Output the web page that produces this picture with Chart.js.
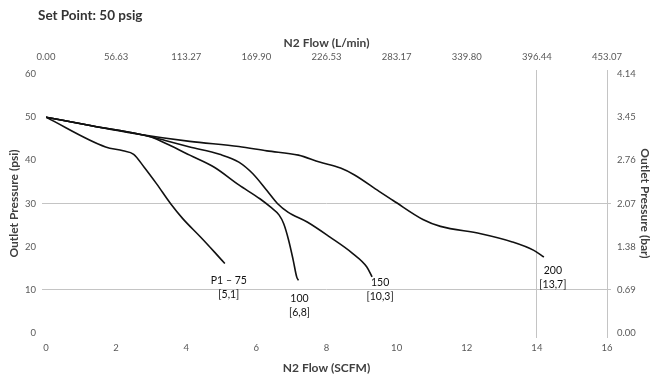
<!DOCTYPE html>
<html>
<head>
<meta charset="utf-8">
<script src="https://cdn.jsdelivr.net/npm/chart.js@4.4.1/dist/chart.umd.min.js"></script>
<style>
html,body{margin:0;padding:0;background:#fff;}
#wrap{width:654px;height:380px;position:relative;}
</style>
</head>
<body>
<div id="wrap"><canvas id="c" width="654" height="380"></canvas></div>
<script>
// ---- data ----
const seriesNames = ["P1 – 75", "100", "150", "200"];
const seriesTags = ["[5,1]", "[6,8]", "[10,3]", "[13,7]"];
const flowP75  = [0, 1.7, 2.2, 2.5, 2.8, 3.15, 3.55, 3.9, 4.4, 4.8, 5.1];
const presP75  = [50, 43.1, 42.2, 41.4, 38.4, 34.6, 30.0, 26.5, 22.3, 18.8, 16.1];
const flow100  = [0, 1.3, 2.7, 3.0, 3.5, 4.1, 4.8, 5.5, 6.1, 6.4, 6.65, 6.78, 6.92, 7.05, 7.15, 7.2];
const pres100  = [50, 48.0, 46.0, 45.4, 43.6, 41.2, 38.4, 34.3, 31.1, 29.2, 27.3, 25.3, 21.5, 16.9, 13.0, 12.2];
const flow150  = [0, 1.3, 2.7, 3.4, 4.1, 4.95, 5.5, 5.9, 6.3, 6.6, 6.9, 7.45, 8.1, 8.75, 9.15, 9.3];
const pres150  = [50, 48.0, 46.0, 44.6, 43.1, 41.4, 39.6, 36.9, 33.0, 30.0, 28.0, 25.7, 22.2, 18.4, 15.3, 13.0];
const flow200  = [0, 1.3, 2.7, 4.1, 5.5, 6.3, 7.2, 7.8, 8.4, 8.8, 9.5, 9.9, 10.75, 11.25, 12.4, 13.3, 13.9, 14.2];
const pres200  = [50, 48.0, 46.0, 44.4, 43.2, 42.2, 41.2, 39.6, 38.2, 36.6, 32.8, 30.7, 26.3, 24.7, 23.0, 21.1, 19.2, 17.6];
const scfmTicks = [0, 2, 4, 6, 8, 10, 12, 14, 16];
const psiTicks = [0, 10, 20, 30, 40, 50, 60];
const SCFM_TO_LPM = 28.3168;
const PSI_TO_BAR = 0.0689476;

const FONT = "Lato, 'Liberation Sans', sans-serif";
const toPts = (xs, ys) => xs.map((x, i) => ({x: x, y: ys[i]}));
const allFlows = [flowP75, flow100, flow150, flow200];
const allPres = [presP75, pres100, pres150, pres200];
// label offsets in pixels from each curve end (style, not data)
const labelOffsets = [[4, 17], [1, 18], [8, 6], [9, 14]];

const datasets = allFlows.map((f, i) => ({
  label: seriesNames[i],
  data: toPts(f, allPres[i]),
  borderColor: '#111',
  borderWidth: 1.6,
  pointRadius: 0,
  fill: false,
  cubicInterpolationMode: 'monotone',
  xAxisID: 'x',
  yAxisID: 'y'
}));

const GRID = '#c4c4c4';
const setPointPlugin = {
  id: 'setpoint',
  afterDraw(chart) {
    const ctx = chart.ctx;
    ctx.save();
    ctx.font = "bold 13.5px " + FONT;
    ctx.fillStyle = '#333';
    ctx.textBaseline = 'middle';
    ctx.textAlign = 'left';
    ctx.fillText("Set Point: 50 psig", 38, 16);
    // end labels
    ctx.font = "10.5px " + FONT;
    ctx.fillStyle = '#111';
    ctx.textAlign = 'center';
    chart.data.datasets.forEach((ds, i) => {
      const last = ds.data[ds.data.length - 1];
      const px = chart.scales.x.getPixelForValue(last.x) + labelOffsets[i][0];
      const py = chart.scales.y.getPixelForValue(last.y) + labelOffsets[i][1];
      ctx.fillText(seriesNames[i], px, py);
      ctx.fillText(seriesTags[i], px, py + 14);
    });
    ctx.restore();
  }
};

const gridX = (ctx) => (ctx.tick && (ctx.tick.value === 14 || ctx.tick.value === 16)) ? GRID : 'rgba(0,0,0,0)';
const gridY = (ctx) => (ctx.tick && (ctx.tick.value === 10 || ctx.tick.value === 30)) ? GRID : 'rgba(0,0,0,0)';
const tickFont = {family: FONT, size: 9.5};
const titleFont = {family: FONT, size: 12, weight: 'bold'};

new Chart(document.getElementById('c'), {
  type: 'line',
  data: {datasets},
  options: {
    responsive: false,
    animation: false,
    devicePixelRatio: 1,
    layout: {padding: 0},
    plugins: {legend: {display: false}, tooltip: {enabled: false}},
    scales: {
      x: {
        type: 'linear', position: 'bottom', min: 0, max: 16,
        afterBuildTicks: (s) => { s.ticks = scfmTicks.map(v => ({value: v})); },
        ticks: {font: tickFont, color: '#595959', padding: 4, maxRotation: 0},
        grid: {color: gridX, tickLength: 5, drawTicks: true},
        border: {display: false},
        title: {display: true, text: 'N2 Flow (SCFM)', font: titleFont, color: '#404040', padding: {top: 0, bottom: 5}},
        afterFit: (s) => { s.height = 47; }
      },
      x2: {
        type: 'linear', position: 'top', min: 0, max: 16,
        afterBuildTicks: (s) => { s.ticks = scfmTicks.map(v => ({value: v})); },
        ticks: {font: tickFont, color: '#595959', padding: 7, maxRotation: 0,
          callback: (v) => (v * SCFM_TO_LPM).toFixed(2)},
        grid: {color: gridX, tickLength: 4, drawTicks: true, drawOnChartArea: false},
        border: {display: false},
        title: {display: true, text: 'N2 Flow (L/min)', font: titleFont, color: '#404040', padding: {top: 36, bottom: 0}},
        afterFit: (s) => { s.height = 74; }
      },
      y: {
        type: 'linear', position: 'left', min: 0, max: 60,
        afterBuildTicks: (s) => { s.ticks = psiTicks.map(v => ({value: v})); },
        ticks: {font: tickFont, color: '#595959', padding: 6},
        grid: {color: gridY, tickLength: 4, drawTicks: true},
        border: {display: false},
        title: {display: true, text: 'Outlet Pressure (psi)', font: titleFont, color: '#404040', padding: {top: 7, bottom: 0}},
        afterFit: (s) => { s.width = 46; }
      },
      y2: {
        type: 'linear', position: 'right', min: 0, max: 60,
        afterBuildTicks: (s) => { s.ticks = psiTicks.map(v => ({value: v})); },
        ticks: {font: tickFont, color: '#595959', padding: 6,
          callback: (v) => (v * PSI_TO_BAR).toFixed(2)},
        grid: {color: gridY, tickLength: 4, drawTicks: true, drawOnChartArea: false},
        border: {display: true, color: GRID, width: 1},
        title: {display: true, text: 'Outlet Pressure (bar)', font: titleFont, color: '#404040', padding: {top: 2, bottom: 0}},
        afterFit: (s) => { s.width = 47; }
      }
    }
  },
  plugins: [setPointPlugin]
});
</script>
</body>
</html>
